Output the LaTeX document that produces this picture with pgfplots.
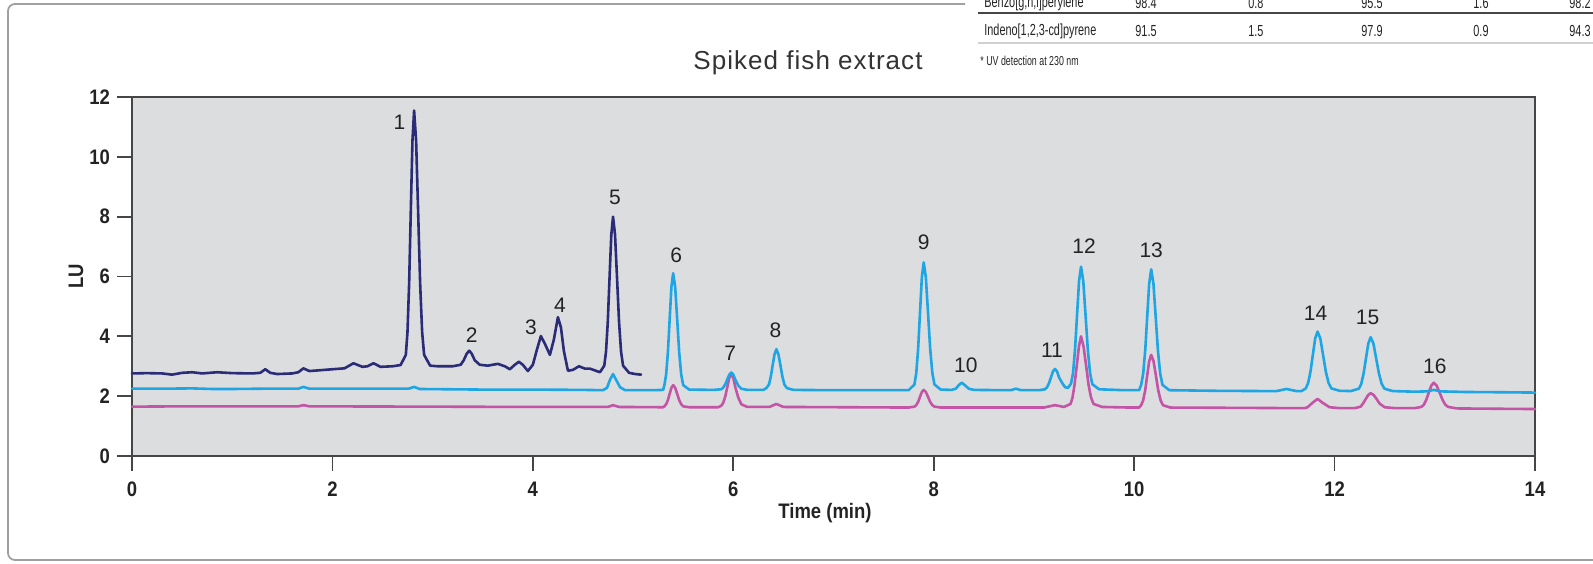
\documentclass[border=0pt]{standalone}
\usepackage{fontspec}
\setmainfont{Liberation Sans}
\newfontfamily\condfont[FakeStretch=0.88]{Liberation Sans}
\newfontfamily\tablefont[FakeStretch=0.68]{Liberation Sans}
\newfontfamily\titlefont[LetterSpace=4]{Liberation Sans}
\usepackage{pgfplots}
\pgfplotsset{compat=1.18}
\definecolor{navy}{RGB}{43,44,120}
\definecolor{cyanblue}{RGB}{30,165,228}
\definecolor{pinkm}{RGB}{196,84,166}
\definecolor{bggray}{RGB}{220,221,223}
\definecolor{axgray}{RGB}{70,70,70}
\definecolor{framegray}{RGB}{160,160,160}
\definecolor{txt}{RGB}{35,35,35}
\begin{document}
\begin{tikzpicture}
\path[use as bounding box] (0pt,0pt) rectangle (796.5pt,281.5pt);
% frame
\draw[framegray, line width=0.9pt, rounded corners=3.5pt] (820pt,1.5pt) -- (4pt,1.5pt) -- (4pt,279.5pt) -- (482.5pt,279.5pt);
% table fragment
\draw[axgray, line width=1pt] (489pt,275pt) -- (800pt,275pt);
\draw[black!18, line width=1pt] (489pt,260pt) -- (800pt,260pt);
\begin{scope}[every node/.style={anchor=west, inner sep=0pt, font=\tablefont\fontsize{8}{9}\selectfont, text=txt}]
\node at (492pt,280pt) {Benzo[g,h,i]perylene};
\node at (567.5pt,280pt) {98.4};
\node at (624pt,280pt) {0.8};
\node at (680.5pt,280pt) {95.5};
\node at (736.5pt,280pt) {1.6};
\node at (784.5pt,280pt) {98.2};
\node at (492pt,266pt) {Indeno[1,2,3-cd]pyrene};
\node at (567.5pt,266pt) {91.5};
\node at (624pt,266pt) {1.5};
\node at (680.5pt,266pt) {97.9};
\node at (736.5pt,266pt) {0.9};
\node at (784.5pt,266pt) {94.3};
\node[font=\tablefont\fontsize{6.5}{8}\selectfont] at (490pt,251pt) {* UV detection at 230 nm};
\end{scope}
% title
\node[font=\titlefont\fontsize{13}{15}\selectfont, text=black!80] at (404pt,250pt) {Spiked fish extract};
\begin{axis}[
  at={(66pt,53.5pt)}, anchor=south west,
  scale only axis, width=701.5pt, height=179.5pt,
  xmin=0, xmax=14, ymin=0, ymax=12,
  xtick={0,2,...,14}, ytick={0,2,...,12},
  tick align=outside, tick pos=left,
  major tick length=7.5pt,
  axis background/.style={fill=bggray},
  axis line style={draw=axgray, line width=0.9pt},
  every tick/.style={draw=axgray, line width=0.9pt},
  /pgf/number format/assume math mode=true,
  ticklabel style={font=\condfont\bfseries\fontsize{10.5}{12}\selectfont, text=txt},
  xticklabel style={yshift=-2pt},
  clip=false,
  every axis plot/.append style={line width=1.3pt, line join=round, line cap=round, mark=none},
]
% pink trace
\addplot[pinkm] coordinates {
(0,1.65) (0.5,1.66) (1.0,1.66) (1.66,1.66) (1.71,1.70) (1.77,1.66) (3.0,1.65) (4.0,1.64) (4.75,1.64) (4.80,1.70) (4.86,1.64) (5.30,1.63)
(5.3125,1.66) (5.33,1.73) (5.3475,1.87) (5.365,2.08) (5.3825,2.28) (5.40,2.37) (5.42,2.28) (5.44,2.08) (5.46,1.87) (5.48,1.73) (5.50,1.66) (5.56,1.63)
(5.85,1.63) (5.88,1.68) (5.90,1.78) (5.92,1.99) (5.94,2.30) (5.96,2.61) (5.98,2.74) (6.00,2.61) (6.02,2.30) (6.05,1.95) (6.08,1.73) (6.14,1.64)
(6.36,1.64) (6.43,1.74) (6.50,1.64) (7.75,1.62)
(7.8075,1.65) (7.826,1.70) (7.8445,1.81) (7.863,1.98) (7.8815,2.14) (7.90,2.21) (7.9215,2.14) (7.943,1.98) (7.9645,1.81) (7.986,1.70) (8.0075,1.65) (8.07,1.62)
(9.1,1.62) (9.21,1.70) (9.30,1.64)
(9.365,1.74) (9.385,1.95) (9.405,2.38) (9.428,3.04) (9.449,3.66) (9.47,4.00) (9.495,3.66) (9.52,3.04) (9.545,2.38) (9.57,1.95) (9.595,1.74) (9.68,1.64)
(9.95,1.62) (10.05,1.62)
(10.07,1.70) (10.09,1.86) (10.11,2.19) (10.13,2.69) (10.15,3.17) (10.17,3.38) (10.1935,3.17) (10.217,2.69) (10.2405,2.19) (10.264,1.86) (10.2875,1.70) (10.36,1.62)
(11.0,1.61) (11.6,1.60) (11.70,1.60)
(11.73,1.63) (11.78,1.78) (11.83,1.91) (11.88,1.78) (11.95,1.63) (12.05,1.60) (12.2,1.60)
(12.26,1.65) (12.285,1.76) (12.31,1.90) (12.335,2.04) (12.36,2.10) (12.39,2.04) (12.42,1.90) (12.45,1.75) (12.50,1.63) (12.60,1.60)
(12.80,1.60) (12.865,1.64) (12.89,1.71) (12.915,1.88) (12.94,2.12) (12.965,2.35) (12.99,2.45) (13.019,2.35) (13.048,2.12) (13.077,1.88) (13.106,1.71) (13.135,1.64) (13.22,1.59) (13.6,1.58) (14.0,1.57)
};
% blue trace
\addplot[cyanblue] coordinates {
(0,2.25) (0.3,2.25) (0.6,2.26) (0.8,2.24) (1.0,2.24) (1.3,2.25) (1.66,2.25) (1.71,2.31) (1.77,2.25) (2.4,2.25) (2.76,2.25) (2.815,2.31) (2.87,2.24) (3.5,2.22) (4.0,2.22) (4.5,2.21) (4.70,2.20)
(4.74,2.28) (4.77,2.55) (4.80,2.74) (4.83,2.55) (4.87,2.30) (4.92,2.20) (5.2,2.20) (5.30,2.21)
(5.3125,2.37) (5.33,2.73) (5.3475,3.47) (5.365,4.57) (5.3825,5.65) (5.40,6.11) (5.42,5.65) (5.44,4.57) (5.46,3.47) (5.48,2.73) (5.50,2.37) (5.56,2.22)
(5.80,2.21) (5.88,2.23) (5.90,2.29) (5.92,2.40) (5.94,2.56) (5.96,2.72) (5.98,2.79) (6.00,2.72) (6.02,2.55) (6.05,2.35) (6.08,2.25) (6.14,2.21)
(6.30,2.21) (6.33,2.27) (6.356,2.39) (6.3745,2.65) (6.393,3.04) (6.4115,3.40) (6.43,3.57) (6.45,3.40) (6.47,3.04) (6.49,2.65) (6.51,2.39) (6.535,2.27) (6.60,2.21)
(7.0,2.20) (7.5,2.20) (7.75,2.20)
(7.8075,2.39) (7.826,2.78) (7.8445,3.59) (7.863,4.79) (7.8815,5.97) (7.90,6.47) (7.9215,5.97) (7.943,4.79) (7.9645,3.59) (7.986,2.78) (8.0075,2.39) (8.07,2.22)
(8.18,2.21) (8.22,2.25) (8.25,2.37) (8.28,2.45) (8.31,2.37) (8.35,2.25) (8.40,2.21)
(8.7,2.20) (8.77,2.20) (8.82,2.25) (8.87,2.20) (9.05,2.20)
(9.11,2.23) (9.13,2.30) (9.15,2.43) (9.17,2.63) (9.19,2.83) (9.21,2.91) (9.23,2.83) (9.25,2.63) (9.28,2.45) (9.31,2.30) (9.34,2.28)
(9.37,2.42) (9.39,2.77) (9.41,3.56) (9.43,4.71) (9.45,5.84) (9.47,6.33) (9.4925,5.84) (9.515,4.71) (9.5375,3.56) (9.56,2.77) (9.5825,2.40) (9.65,2.23)
(9.9,2.20) (10.05,2.20)
(10.07,2.38) (10.09,2.75) (10.11,3.51) (10.13,4.65) (10.15,5.76) (10.17,6.24) (10.1925,5.76) (10.215,4.65) (10.2375,3.51) (10.26,2.75) (10.2825,2.38) (10.35,2.20)
(10.8,2.18) (11.3,2.17) (11.42,2.17) (11.52,2.24) (11.62,2.17) (11.67,2.17)
(11.7125,2.26) (11.736,2.44) (11.7595,2.82) (11.783,3.38) (11.8065,3.93) (11.83,4.16) (11.8575,3.93) (11.885,3.38) (11.9125,2.82) (11.94,2.44) (11.9675,2.26) (12.05,2.18) (12.16,2.17)
(12.2425,2.25) (12.266,2.41) (12.2895,2.76) (12.313,3.26) (12.3365,3.76) (12.36,3.97) (12.3875,3.76) (12.415,3.26) (12.4425,2.76) (12.47,2.41) (12.4975,2.25) (12.58,2.17)
(12.8,2.15) (12.92,2.16) (12.99,2.21) (13.06,2.16) (13.3,2.14) (13.7,2.13) (14.0,2.12)
};
% navy trace
\addplot[navy] coordinates {
(0.00,2.76) (0.15,2.77) (0.30,2.76) (0.40,2.72) (0.50,2.78) (0.60,2.80) (0.70,2.76) (0.85,2.80) (1.00,2.77) (1.20,2.76) (1.28,2.78) (1.33,2.90) (1.38,2.78) (1.45,2.74) (1.60,2.76) (1.66,2.80) (1.71,2.93) (1.77,2.84) (1.85,2.86) (2.00,2.90) (2.12,2.93) (2.21,3.10) (2.30,2.98) (2.35,3.00) (2.41,3.10) (2.48,2.98) (2.60,3.00) (2.68,3.04)
(2.7325,3.38) (2.749,4.15) (2.7655,5.78) (2.782,8.19) (2.7985,10.54) (2.815,11.55) (2.835,10.54) (2.855,8.19) (2.875,5.78) (2.895,4.15) (2.915,3.38) (2.975,3.02)
(3.05,3.00) (3.20,3.00) (3.28,3.05) (3.31,3.20) (3.34,3.42) (3.365,3.52) (3.39,3.42) (3.42,3.20) (3.47,3.05)
(3.55,3.02) (3.65,3.08) (3.72,3.00) (3.77,2.90) (3.82,3.05) (3.86,3.15) (3.90,3.05) (3.95,2.84)
(4.00,3.05) (4.04,3.55) (4.08,4.01) (4.12,3.75) (4.17,3.38) (4.21,3.90) (4.25,4.64) (4.28,4.30) (4.31,3.50) (4.35,2.85) (4.40,2.88) (4.46,3.00) (4.52,2.92) (4.57,2.92) (4.67,2.80)
(4.7125,3.02) (4.73,3.49) (4.7475,4.48) (4.765,5.95) (4.7825,7.39) (4.80,8.00) (4.82,7.39) (4.84,5.95) (4.86,4.48) (4.88,3.49) (4.90,3.02) (4.96,2.78) (5.02,2.74) (5.08,2.72)
};
\begin{scope}[every node/.style={font=\fontsize{10.5}{12}\selectfont, text=txt, inner sep=0pt}]
\node at (axis cs:2.67,11.16) {1};
\node at (axis cs:3.39,4.05) {2};
\node at (axis cs:3.98,4.30) {3};
\node at (axis cs:4.27,5.05) {4};
\node at (axis cs:4.82,8.65) {5};
\node at (axis cs:5.43,6.72) {6};
\node at (axis cs:5.97,3.43) {7};
\node at (axis cs:6.42,4.21) {8};
\node at (axis cs:7.90,7.13) {9};
\node at (axis cs:8.32,3.04) {10};
\node at (axis cs:9.18,3.54) {11};
\node at (axis cs:9.50,7.00) {12};
\node at (axis cs:10.17,6.87) {13};
\node at (axis cs:11.81,4.77) {14};
\node at (axis cs:12.33,4.64) {15};
\node at (axis cs:13.00,2.99) {16};
\end{scope}
\end{axis}
\node[font=\condfont\bfseries\fontsize{10.5}{12}\selectfont, text=txt] at (412.5pt,25pt) {Time (min)};
\node[font=\condfont\bfseries\fontsize{10.5}{12}\selectfont, text=txt, rotate=90] at (38pt,143.25pt) {LU};
\end{tikzpicture}
\end{document}
